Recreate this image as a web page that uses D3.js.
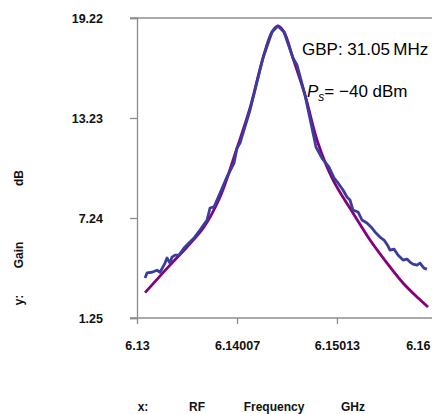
<!DOCTYPE html>
<html>
<head>
<meta charset="utf-8">
<script src="https://cdn.jsdelivr.net/npm/d3@7"></script>
<style>
  body { margin: 0; background: #fff; }
  svg { display: block; font-family: "Liberation Sans", Arial, sans-serif; }
</style>
</head>
<body>
<script>
// tick values on the axes
var xTicks = [6.13, 6.14007, 6.15013, 6.16];
var yTicks = [1.25, 7.24, 13.23, 19.22];

var measFreq = [6.13081, 6.13101, 6.13151, 6.13201, 6.13232, 6.13282, 6.13302, 6.13332, 6.13352, 6.13383,
  6.13423, 6.13473, 6.13523, 6.13574, 6.13634, 6.13705, 6.13735, 6.13775, 6.13836, 6.13906,
  6.13977, 6.14007, 6.14037, 6.14138, 6.14268, 6.14359, 6.14419, 6.14480, 6.14570, 6.14611,
  6.14691, 6.14802, 6.14862, 6.14933, 6.14983, 6.15024, 6.15074, 6.15114, 6.15144, 6.15174,
  6.15225, 6.15265, 6.15315, 6.15366, 6.15406, 6.15446, 6.15487, 6.15527, 6.15547, 6.15587,
  6.15627, 6.15678, 6.15718, 6.15748, 6.15778, 6.15819, 6.15849, 6.15889, 6.15919];
var measGain = [3.65, 3.95, 3.99, 4.11, 3.99, 4.54, 4.84, 4.54, 4.90, 5.02,
  5.02, 5.44, 5.74, 6.04, 6.52, 7.12, 7.84, 7.90, 8.74, 9.70,
  10.53, 11.43, 11.73, 13.71, 16.82, 18.38, 18.74, 18.38, 16.82, 16.40,
  14.61, 11.49, 10.83, 10.29, 9.64, 9.34, 8.92, 8.50, 8.32, 7.72,
  7.60, 7.12, 6.94, 6.64, 6.34, 6.10, 5.92, 5.56, 5.32, 5.38,
  5.02, 4.72, 4.78, 4.60, 4.48, 4.42, 4.54, 4.24, 4.18];

// fitted curve (purple)
var fitFreq = [6.13081, 6.13332, 6.13503, 6.13674, 6.13836, 6.14007, 6.14138, 6.14268, 6.14359, 6.14419,
  6.14480, 6.14570, 6.14691, 6.14822, 6.14973, 6.15174, 6.15346, 6.15517, 6.15678, 6.15830, 6.15930];
var fitGain = [2.77, 4.42, 5.50, 6.70, 8.50, 11.43, 13.83, 16.82, 18.38, 18.74,
  18.38, 16.82, 14.61, 11.73, 9.52, 7.54, 5.92, 4.54, 3.35, 2.45, 1.91];

var W = 432, H = 414;
var x0 = 137, x1 = 435, y0 = 318, y1 = 18;

var svg = d3.select('body').append('svg')
  .attr('width', W)
  .attr('height', H);

var x = d3.scaleLinear().domain([6.13, 6.16]).range([x0, x1]);
var y = d3.scaleLinear().domain([1.25, 19.22]).range([y0, y1]);

var axisCol = '#8c8c8c';

// top frame line
svg.append('line')
  .attr('x1', x0 - 7).attr('x2', W)
  .attr('y1', y1).attr('y2', y1)
  .attr('stroke', axisCol).attr('stroke-width', 1.3);

var yAxis = d3.axisLeft(y).tickValues(yTicks).tickSize(7).tickPadding(27)
  .tickFormat(d3.format('.2f'));
var gy = svg.append('g')
  .attr('transform', 'translate(' + x0 + ',0)')
  .call(yAxis);

var xAxis = d3.axisBottom(x).tickValues(xTicks).tickSize(6).tickPadding(17)
  .tickFormat(function(d) { return String(d); });
var gx = svg.append('g')
  .attr('transform', 'translate(0,' + y0 + ')')
  .call(xAxis);

[gx, gy].forEach(function(g) {
  g.select('.domain').attr('stroke', axisCol).attr('stroke-width', 1.3);
  g.selectAll('.tick line').attr('stroke', axisCol).attr('stroke-width', 1.3);
  g.selectAll('.tick text')
    .attr('fill', '#111')
    .style('font-size', '12.5px')
    .style('font-weight', 'bold')
    .style('font-family', '"Liberation Sans", Arial, sans-serif');
});
gx.select('.domain').attr('d', 'M' + (x0 - 7) + ',0H' + W);
// last label sits inside the picture
gx.selectAll('.tick').filter(function(d) { return d === 6.16; })
  .select('text').attr('text-anchor', 'end').attr('dx', -5);
gx.selectAll('.tick').filter(function(d) { return d === 6.16; })
  .select('line').remove();

var fitLine = d3.line()
  .x(function(d) { return x(d[0]); })
  .y(function(d) { return y(d[1]); })
  .curve(d3.curveCatmullRom.alpha(0.5));

var measLine = d3.line()
  .x(function(d) { return x(d[0]); })
  .y(function(d) { return y(d[1]); });

svg.append('path')
  .datum(d3.zip(fitFreq, fitGain))
  .attr('d', fitLine)
  .attr('fill', 'none')
  .attr('stroke', '#85007f')
  .attr('stroke-width', 2.8);

svg.append('path')
  .datum(d3.zip(measFreq, measGain))
  .attr('d', measLine)
  .attr('fill', 'none')
  .attr('stroke', '#3a3d9c')
  .attr('stroke-width', 2.8)
  .attr('stroke-linejoin', 'round');

// annotations
svg.append('text')
  .attr('x', 302).attr('y', 55)
  .style('font-size', '17px')
  .attr('fill', '#000')
  .text('GBP: 31.05\u2009MHz');

var ps = svg.append('text')
  .attr('x', 307).attr('y', 97)
  .style('font-size', '17px')
  .attr('fill', '#000');
ps.append('tspan').style('font-style', 'italic').text('P');
ps.append('tspan').style('font-style', 'italic').style('font-size', '12px').attr('dy', 4).text('s');
ps.append('tspan').attr('dy', -4).text('= \u221240 dBm');

// axis titles
var yTitles = [['y:', 300], ['Gain', 255], ['dB', 178]];
yTitles.forEach(function(t) {
  svg.append('text')
    .attr('transform', 'translate(23,' + t[1] + ') rotate(-90)')
    .attr('text-anchor', 'middle')
    .style('font-size', '12px')
    .style('font-weight', 'bold')
    .attr('fill', '#111')
    .text(t[0]);
});

var xTitles = [['x:', 143], ['RF', 197], ['Frequency', 274], ['GHz', 353]];
xTitles.forEach(function(t) {
  svg.append('text')
    .attr('x', t[1]).attr('y', 411)
    .attr('text-anchor', 'middle')
    .style('font-size', '12px')
    .style('font-weight', 'bold')
    .attr('fill', '#111')
    .text(t[0]);
});
</script>
</body>
</html>
